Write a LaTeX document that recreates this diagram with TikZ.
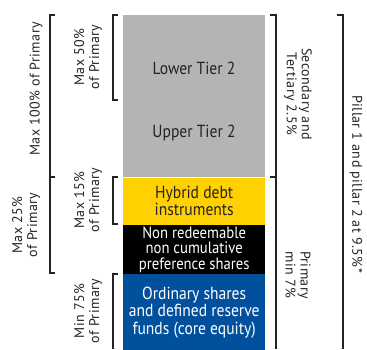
\documentclass[tikz,border=0pt]{standalone}
\usepackage{fontspec}
\setmainfont{PT Sans}
\newfontfamily\barfont[FakeStretch=0.89]{PT Sans}
\newfontfamily\sidefont[LetterSpace=3]{PT Sans}
\usetikzlibrary{positioning}

\definecolor{tiergray}{RGB}{178,180,182}
\definecolor{hybridyellow}{RGB}{255,209,0}
\definecolor{equityblue}{RGB}{0,80,158}
\definecolor{inkgray}{RGB}{35,35,35}

\tikzset{
	seg/.style={minimum width=142pt, inner sep=0pt, align=center, anchor=north west,
		font=\barfont\fontsize{17.5}{17.5}\selectfont},
	brk/.style={draw=inkgray, line width=1.1pt},
	lbl/.style={align=center, text=inkgray, inner sep=0pt,
		font=\sidefont\fontsize{14}{15}\selectfont},
	tierlbl/.style={text=inkgray, inner sep=0pt, font=\barfont\fontsize{17.5}{17.5}\selectfont},
}

\begin{document}
\begin{tikzpicture}[x=1pt, y=-1pt]
	\useasboundingbox (0,0) rectangle (367,349);

	% capital stack
	\node[seg, fill=tiergray, minimum height=162pt] (tiertwo) at (123,15) {};
	\node[seg, fill=hybridyellow, text=inkgray, below=0pt of tiertwo, minimum height=47pt] (hybrid) {Hybrid debt\\instruments};
	\node[seg, fill=black, text=white, below=0pt of hybrid, minimum height=49pt,
		font=\barfont\fontsize{16.5}{15.5}\selectfont] (prefshares) {Non redeemable\\non cumulative\\preference shares};
	\node[seg, fill=equityblue, text=white, below=0pt of prefshares, minimum height=76pt] (equity) {Ordinary shares\\and defined reserve\\funds (core equity)};

	\node[tierlbl] (lowertier) at (194,68) {Lower Tier 2};
	\node[tierlbl] (uppertier) at (194,133) {Upper Tier 2};

	% brackets on the left
	\draw[brk] (118,15) -- (113,15) -- (113,100) -- (118,100);
	\draw[brk] (118,177) -- (113,177) -- (113,224) -- (118,224);
	\draw[brk] (118,274) -- (113,274) -- (113,349);
	\draw[brk] (55,15) -- (50,15) -- (50,177) -- (55,177);
	\draw[brk] (55,177) -- (50,177) -- (50,273) -- (55,273);

	% brackets on the right
	\draw[brk] (270,15) -- (276,15) -- (276,177) -- (270,177);
	\draw[brk] (270,177) -- (276,177) -- (276,349);
	\draw[brk] (337,15) -- (343,15) -- (343,349);

	\node[lbl, rotate=90] (maxhundred) at (36,89) {Max 100\% of Primary};
	\node[lbl, rotate=90] (maxfifty) at (88,57) {Max 50\%\\of Primary};
	\node[lbl, rotate=90] (maxtwentyfive) at (26,225) {Max 25\%\\of Primary};
	\node[lbl, rotate=90] (maxfifteen) at (88,200) {Max 15\%\\of Primary};
	\node[lbl, rotate=90] (minseventyfive) at (88,311) {Min 75\%\\of Primary};

	\node[lbl, rotate=-90] (secondary) at (298,94) {Secondary and\\Tertiary 2.5\%};
	\node[lbl, rotate=-90] (primarymin) at (298,275) {Primary\\min 7\%};
	\node[lbl, rotate=-90] (pillar) at (356,184) {Pillar 1 and pillar 2 at 9.5\%*};
\end{tikzpicture}
\end{document}
